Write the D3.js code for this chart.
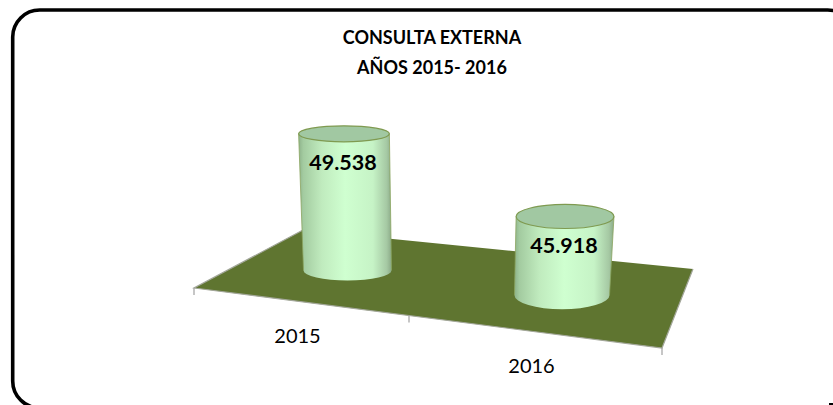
<!DOCTYPE html>
<html>
<head>
<meta charset="utf-8">
<script src="https://cdn.jsdelivr.net/npm/d3@7"></script>
<style>
  html, body { margin: 0; padding: 0; background: #fff; overflow: hidden; }
  text { font-family: Lato, "Open Sans", sans-serif; fill: #000; }
</style>
</head>
<body>
<div id="chart"></div>
<script>
//Data
var years = ["2015", "2016"];
var consultas = [49538, 45918];
var valueLabels = ["49.538", "45.918"];
var titleLines = ["CONSULTA EXTERNA", "AÑOS 2015- 2016"];

var width = 833, height = 405;

var svg = d3.select("#chart")
    .append("svg")
    .attr("width", width)
    .attr("height", height);

var defs = svg.append("defs");

//Body shading, dark at the sides and light in the middle
var grad = defs.append("linearGradient")
    .attr("id", "bodyGrad")
    .attr("x1", "0%").attr("x2", "100%")
    .attr("y1", "0%").attr("y2", "0%");
[[0, "#8db28a"], [0.05, "#a3cba0"], [0.25, "#c0ebbe"], [0.5, "#cfffd0"], [0.8, "#c6f3c6"], [0.95, "#a5c8a3"], [1, "#8aa987"]]
    .forEach(function (s) {
        grad.append("stop").attr("offset", s[0]).attr("stop-color", s[1]);
    });

//Outer frame, cropped on the right and bottom
svg.append("rect")
    .attr("x", 12.7).attr("y", 10)
    .attr("width", 842).attr("height", 398)
    .attr("rx", 27).attr("ry", 27)
    .attr("fill", "#fff")
    .attr("stroke", "#000")
    .attr("stroke-width", 3.6);

svg.append("rect")
    .attr("x", 829).attr("y", 403)
    .attr("width", 4).attr("height", 2)
    .attr("fill", "#000");

//Title
svg.selectAll(".title")
    .data(titleLines)
    .enter().append("text")
    .attr("class", "title")
    .attr("x", 432)
    .attr("y", function (d, i) { return 44 + i * 29.5; })
    .attr("text-anchor", "middle")
    .style("font-size", "18px")
    .style("font-weight", "bold")
    .text(function (d) { return d; });

//Floor scales, position along the front and the back edge of the plane
var frontX = d3.scaleLinear().domain([0, 1, 2]).range([194, 409, 662]);
var backX = d3.scaleLinear().domain([0, 1, 2]).range([303, 484, 693]);
var frontY = d3.scaleLinear().domain([194, 662]).range([288, 348]);
var backY = d3.scaleLinear().domain([303, 693]).range([230, 269]);

function floorPoint(u, depth) {
    var fx = frontX(u), bx = backX(u);
    return [fx + (bx - fx) * depth, frontY(fx) + (backY(bx) - frontY(fx)) * depth];
}

//Value axis is truncated in the original chart
var h = d3.scaleLinear().domain([41000, 50000]).range([0, 144]);

//Ellipse size and lean change with the position on the floor
var rxScale = d3.scaleLinear().domain([348, 560]).range([44, 47.5]);
var ryScale = d3.scaleLinear().domain([348, 560]).range([10, 14]);
var lean = 0.0003, vanishX = 433;

//Floor
var corners = [[0, 0], [2, 0], [2, 1], [0, 1]].map(function (c) { return floorPoint(c[0], c[1]); });
svg.append("path")
    .attr("d", d3.line()(corners) + "Z")
    .attr("fill", "#5f7530");

svg.append("path")
    .attr("d", d3.line()([corners[3], corners[0], corners[1], corners[2]]))
    .attr("fill", "none")
    .attr("stroke", "#a3a79a")
    .attr("stroke-width", 1.2);

//Ticks
[0, 1, 2].forEach(function (u) {
    var p = floorPoint(u, 0);
    svg.append("line")
        .attr("x1", p[0]).attr("x2", p[0])
        .attr("y1", p[1]).attr("y2", p[1] + 7)
        .attr("stroke", "#a0a0a0")
        .attr("stroke-width", 1.2);
});

//Cylinders
years.forEach(function (year, i) {
    var base = floorPoint(i + 0.5, 0.5);
    var rx = rxScale(base[0]), ry = ryScale(base[0]);
    var bodyH = h(consultas[i]);
    var topX = base[0] + (base[0] - vanishX) * lean * bodyH;
    var topY = base[1] - bodyH;
    var topRx = rx + 1.4, topRy = ry - 2;

    var g = svg.append("g");

    g.append("path")
        .attr("d", "M" + (topX - topRx) + "," + topY +
            "L" + (base[0] - rx) + "," + base[1] +
            "A" + rx + "," + ry + " 0 0 0 " + (base[0] + rx) + "," + base[1] +
            "L" + (topX + topRx) + "," + topY + "Z")
        .attr("fill", "url(#bodyGrad)");

    //Thin outline on the two sides only
    [-1, 1].forEach(function (side) {
        g.append("line")
            .attr("x1", topX + side * topRx).attr("y1", topY)
            .attr("x2", base[0] + side * rx).attr("y2", base[1])
            .attr("stroke", "#8aa55f")
            .attr("stroke-width", 0.8);
    });

    g.append("ellipse")
        .attr("cx", topX).attr("cy", topY)
        .attr("rx", topRx).attr("ry", topRy)
        .attr("fill", "#a1c8a2")
        .attr("stroke", "#7f9a50")
        .attr("stroke-width", 1.2);

    //Value label
    g.append("text")
        .attr("x", topX - 1)
        .attr("y", topY + 36.5)
        .attr("text-anchor", "middle")
        .style("font-size", "21.5px")
        .style("font-weight", "bold")
        .text(valueLabels[i]);

    //Category label
    var front = floorPoint(i + 0.5, 0);
    svg.append("text")
        .attr("x", front[0] - 4)
        .attr("y", front[1] + 41)
        .attr("text-anchor", "middle")
        .style("font-size", "20px")
        .text(year);
});
</script>
</body>
</html>
